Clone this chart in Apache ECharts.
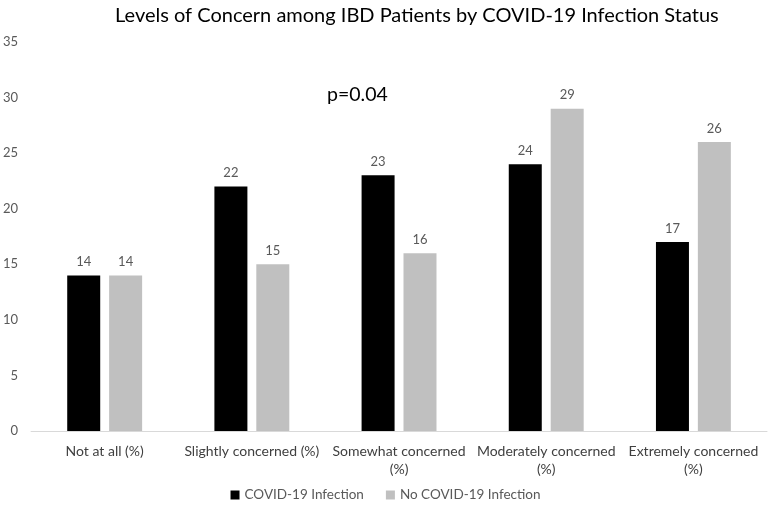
<!DOCTYPE html>
<html><head><meta charset="utf-8">
<script src="https://cdn.jsdelivr.net/npm/echarts@6/dist/echarts.min.js"></script>
<style>html,body{margin:0;padding:0;background:#fff}#c{width:771px;height:506px}</style>
</head><body><div id="c"></div>
<script>
var categories = ["Not at all (%)", "Slightly concerned (%)", "Somewhat concerned (%)", "Moderately concerned (%)", "Extremely concerned (%)"];
var covidInfection = [14, 22, 23, 24, 17];
var noCovidInfection = [14, 15, 16, 29, 26];
var seriesNames = ["COVID-19 Infection", "No COVID-19 Infection"];
var yTicks = {min: 0, max: 35, interval: 5};
var wrapped = {"Somewhat concerned (%)": 1, "Moderately concerned (%)": 1, "Extremely concerned (%)": 1};
var FONT = "Lato";
var chart = echarts.init(document.getElementById('c'));
chart.setOption({
  animation: false,
  textStyle: {fontFamily: FONT},
  title: {text: "Levels of Concern among IBD Patients by COVID-19 Infection Status", left: 110, top: 1,
    textStyle: {fontFamily: FONT, fontSize: 20, fontWeight: 'normal', color: '#000'}},
  grid: {left: 27, right: 4, top: 42, bottom: 75},
  legend: {bottom: -1, left: 'center', itemWidth: 9, itemHeight: 9, itemGap: 22, icon: 'rect',
    textStyle: {fontFamily: FONT, fontSize: 13.5, color: '#595959'}},
  xAxis: {type: 'category', data: categories,
    axisLine: {lineStyle: {color: '#d9d9d9', width: 1}}, axisTick: {show: false},
    axisLabel: {fontFamily: FONT, fontSize: 14, color: '#404040', margin: 11, lineHeight: 18, interval: 0,
      formatter: function (v) { return wrapped[v] ? v.replace(' (%)', '\n(%)') : v; }}},
  yAxis: {type: 'value', min: yTicks.min, max: yTicks.max, interval: yTicks.interval,
    splitLine: {show: false}, axisLine: {show: false}, axisTick: {show: false},
    axisLabel: {fontFamily: FONT, fontSize: 13, color: '#595959', margin: 13}},
  graphic: [{type: 'text', left: 327, top: 85, style: {text: 'p=0.04', fontFamily: FONT, fontSize: 19.5, fill: '#000'}}],
  series: [
    {name: seriesNames[0], type: 'bar', data: covidInfection, barWidth: 33, barGap: '27%',
      itemStyle: {color: '#000000'},
      label: {show: true, position: 'top', distance: 7, fontFamily: FONT, fontSize: 13, color: '#595959'}},
    {name: seriesNames[1], type: 'bar', data: noCovidInfection, barWidth: 33,
      itemStyle: {color: '#c0c0c0'},
      label: {show: true, position: 'top', distance: 7, fontFamily: FONT, fontSize: 13, color: '#595959'}}
  ]
});
</script></body></html>
